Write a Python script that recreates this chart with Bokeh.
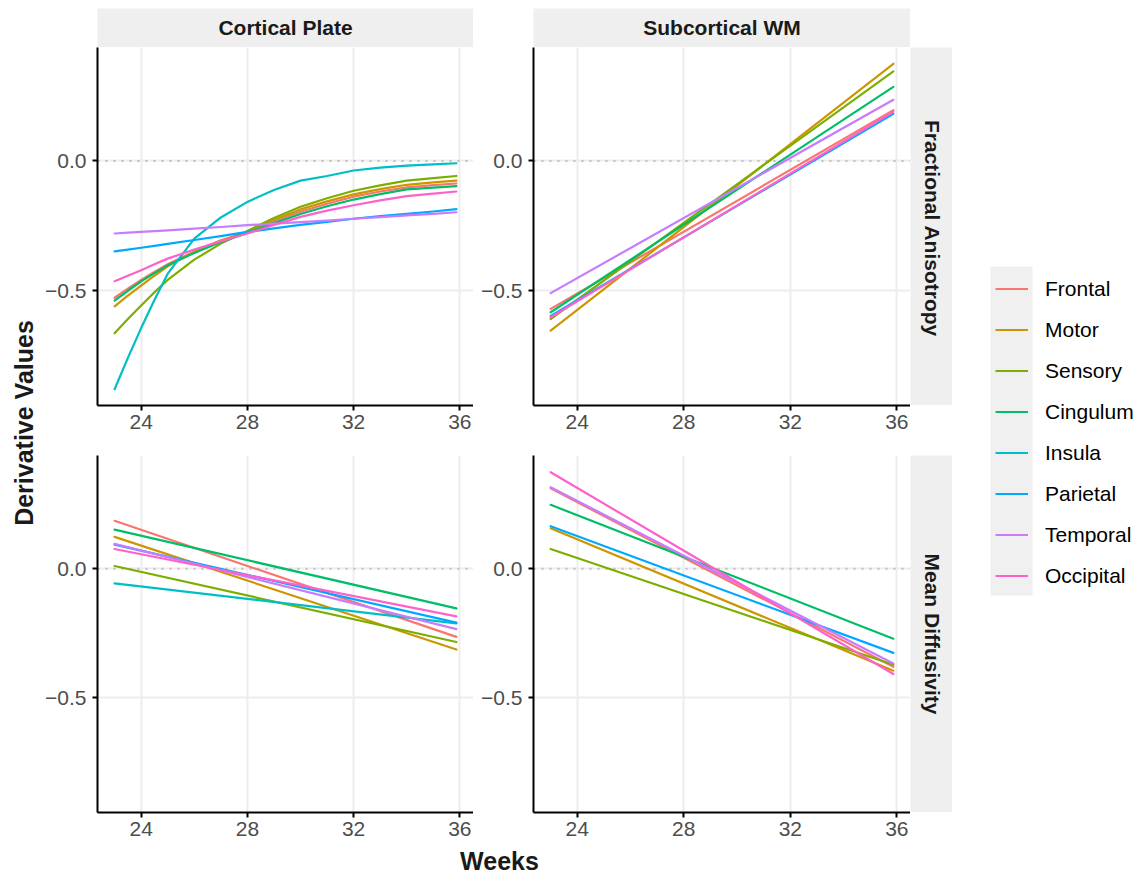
import math
from bokeh.plotting import figure
from bokeh.models import (Range1d, FixedTicker, CustomJSTickFormatter, Spacer,
                          Legend, LegendItem, BoxAnnotation, Span)
from bokeh.layouts import row, column
from bokeh.embed import file_html
from bokeh.resources import INLINE
from bokeh.core.properties import value

# ---------------- data ----------------
REGIONS = ["Frontal", "Motor", "Sensory", "Cingulum", "Insula", "Parietal", "Temporal", "Occipital"]
COLORS = ["#F8766D", "#CD9600", "#7CAE00", "#00BE67", "#00BFC4", "#00A9FF", "#C77CFF", "#FF61CC"]

COLUMN_LABELS = ["Cortical Plate", "Subcortical WM"]
ROW_LABELS = ["Fractional Anisotropy", "Mean Diffusivity"]
X_TITLE = "Weeks"
Y_TITLE = "Derivative Values"
X_TICKS = [24, 28, 32, 36]
Y_TICKS = [-0.5, 0.0]

# Cortical Plate, Fractional Anisotropy (curved)
WEEKS_CP_FA = [23, 23.5, 24, 24.5, 25, 26, 27, 28, 29, 30, 31, 32, 33, 34, 35, 35.87]
CP_FA = {
    "Frontal":   [-0.528, -0.493, -0.459, -0.428, -0.399, -0.349, -0.306, -0.274, -0.232, -0.196, -0.165, -0.138, -0.118, -0.102, -0.093, -0.087],
    "Motor":     [-0.561, -0.520, -0.481, -0.443, -0.407, -0.351, -0.309, -0.274, -0.228, -0.187, -0.156, -0.129, -0.109, -0.092, -0.083, -0.076],
    "Sensory":   [-0.665, -0.610, -0.558, -0.507, -0.459, -0.381, -0.319, -0.270, -0.220, -0.177, -0.144, -0.115, -0.094, -0.076, -0.066, -0.058],
    "Cingulum":  [-0.539, -0.501, -0.465, -0.433, -0.403, -0.355, -0.313, -0.278, -0.240, -0.205, -0.175, -0.149, -0.128, -0.110, -0.103, -0.097],
    "Insula":    [-0.881, -0.760, -0.645, -0.537, -0.435, -0.300, -0.218, -0.158, -0.112, -0.076, -0.058, -0.037, -0.026, -0.018, -0.013, -0.009],
    "Parietal":  [-0.349, -0.342, -0.335, -0.328, -0.320, -0.305, -0.290, -0.274, -0.260, -0.247, -0.235, -0.223, -0.213, -0.204, -0.195, -0.186],
    "Temporal":  [-0.280, -0.277, -0.274, -0.271, -0.268, -0.261, -0.255, -0.248, -0.242, -0.236, -0.230, -0.223, -0.217, -0.210, -0.204, -0.198],
    "Occipital": [-0.464, -0.443, -0.422, -0.399, -0.377, -0.342, -0.310, -0.280, -0.247, -0.216, -0.192, -0.171, -0.152, -0.136, -0.126, -0.118],
}

# Straight-line panels
WEEKS_LIN = [23, 35.87]
WM_FA = {
    "Frontal":   [-0.571, 0.196],
    "Motor":     [-0.655, 0.375],
    "Sensory":   [-0.610, 0.346],
    "Cingulum":  [-0.584, 0.286],
    "Parietal":  [-0.598, 0.182],
    "Temporal":  [-0.510, 0.236],
    "Occipital": [-0.603, 0.190],
}
CP_MD = {
    "Frontal":   [0.185, -0.264],
    "Motor":     [0.123, -0.313],
    "Sensory":   [0.010, -0.284],
    "Cingulum":  [0.151, -0.154],
    "Insula":    [-0.057, -0.212],
    "Parietal":  [0.093, -0.209],
    "Temporal":  [0.096, -0.234],
    "Occipital": [0.076, -0.185],
}
WM_MD = {
    "Frontal":   [0.311, -0.380],
    "Motor":     [0.156, -0.395],
    "Sensory":   [0.076, -0.372],
    "Cingulum":  [0.247, -0.271],
    "Parietal":  [0.164, -0.326],
    "Temporal":  [0.315, -0.367],
    "Occipital": [0.373, -0.408],
}

# ---------------- styling ----------------
FONT = "Liberation Sans"
STRIP = "#EFEFEF"
GRID = "#EDEDED"
TICK_TXT = "#4D4D4D"
LW = 2.2

all_vals = [v for d in (CP_FA, WM_FA, CP_MD, WM_MD) for s in d.values() for v in s]
all_x = WEEKS_CP_FA + WEEKS_LIN
ypad = 0.05 * (max(all_vals) - min(all_vals))
xpad = 0.05 * (max(all_x) - min(all_x))
XR = Range1d(min(all_x) - xpad, max(all_x) + xpad)
YR = Range1d(min(all_vals) - ypad, max(all_vals) + ypad)

YFMT = CustomJSTickFormatter(code='return (tick < 0 ? "\\u2212" : "") + Math.abs(tick).toFixed(1);')


def make_panel(weeks, series, width, height, border_left, border_bottom):
    p = figure(width=width, height=height, x_range=XR, y_range=YR,
               output_backend="svg", toolbar_location=None,
               min_border_left=border_left, min_border_right=0,
               min_border_top=0, min_border_bottom=border_bottom)
    p.background_fill_color = "white"
    p.border_fill_color = "white"
    p.outline_line_color = None
    p.xaxis.ticker = FixedTicker(ticks=X_TICKS)
    p.yaxis.ticker = FixedTicker(ticks=Y_TICKS)
    p.yaxis.formatter = YFMT
    for ax in (p.xaxis[0], p.yaxis[0]):
        ax.axis_line_color = "black"
        ax.axis_line_width = 2
        ax.major_tick_line_color = "black"
        ax.major_tick_line_width = 2
        ax.major_tick_out = 5
        ax.major_tick_in = 0
        ax.minor_tick_line_color = None
        ax.major_label_text_font = FONT
        ax.major_label_text_font_size = "21px"
        ax.major_label_text_color = TICK_TXT
    p.xaxis.major_label_standoff = 4
    p.yaxis.major_label_standoff = 6
    p.xgrid.grid_line_color = GRID
    p.xgrid.grid_line_width = 2
    p.ygrid.grid_line_color = GRID
    p.ygrid.grid_line_width = 2
    p.add_layout(Span(location=0, dimension="width", line_color="#BDBDBD",
                      line_dash="2 6", line_width=2, level="underlay"))
    for reg, col in zip(REGIONS, COLORS):
        if reg in series:
            p.line(weeks, series[reg], line_color=col, line_width=LW,
                   line_join="round", line_cap="round")
    return p


def text_fig(width, height, x, y, label, size, angle=0.0, bg="white", align="center"):
    f = figure(width=width, height=height, x_range=Range1d(0, width),
               y_range=Range1d(0, height), x_axis_type=None, y_axis_type=None,
               output_backend="svg", toolbar_location=None, min_border=0)
    f.background_fill_color = bg
    f.border_fill_color = bg
    f.outline_line_color = None
    f.text(x=[x], y=[y], text=[label], angle=angle,
           text_font=value(FONT), text_font_size=value(size),
           text_font_style="bold", text_color="#1A1A1A",
           text_align=align, text_baseline="alphabetic")
    return f


# ---------------- layout pieces ----------------
TOTAL_H = 875
W_LEFT, W_RIGHT = 433, 437      # panel canvases (frames 376 / 377)
BL_LEFT, BL_RIGHT = 57, 60
H_TOP, BB_TOP = 408, 50         # frame 358
H_BOT, BB_BOT = 390, 33         # frame 357
H_XT = 30
MAIN_W = W_LEFT + W_RIGHT + 42

strip_cp = text_fig(376, 39, 188, 20, COLUMN_LABELS[0], "21px", bg=STRIP)
strip_wm = text_fig(377, 39, 188.5, 20, COLUMN_LABELS[1], "21px", bg=STRIP)
strip_fa = text_fig(42, 358, 21.5, 177, ROW_LABELS[0], "21px", angle=-math.pi / 2, bg=STRIP)
strip_md = text_fig(42, 357, 21.5, 178.5, ROW_LABELS[1], "21px", angle=-math.pi / 2, bg=STRIP)

tl = make_panel(WEEKS_CP_FA, CP_FA, W_LEFT, H_TOP, BL_LEFT, BB_TOP)
tr = make_panel(WEEKS_LIN, WM_FA, W_RIGHT, H_TOP, BL_RIGHT, BB_TOP)
bl = make_panel(WEEKS_LIN, CP_MD, W_LEFT, H_BOT, BL_LEFT, BB_BOT)
br = make_panel(WEEKS_LIN, WM_MD, W_RIGHT, H_BOT, BL_RIGHT, BB_BOT)

x_title = text_fig(MAIN_W, H_XT, 459, 15, X_TITLE, "25px")
y_title = text_fig(40, TOTAL_H, 23.5, TOTAL_H - 422.5, Y_TITLE, "25px", angle=math.pi / 2)

# legend figure: its view is placed away from the data so only the legend shows
LX0 = 100
lf = figure(width=186, height=TOTAL_H, x_range=Range1d(LX0, LX0 + 186),
            y_range=Range1d(TOTAL_H, 0), x_axis_type=None, y_axis_type=None,
            output_backend="svg", toolbar_location=None, min_border=0)
lf.outline_line_color = None
lf.add_layout(BoxAnnotation(left=LX0 + 38, right=LX0 + 80, top=266, bottom=595,
                            fill_color="#F0F0F0", fill_alpha=1.0,
                            line_color=None, level="underlay"))
items = []
for reg, col in zip(REGIONS, COLORS):
    src = CP_FA[reg]
    r = lf.line(WEEKS_CP_FA, src, line_color=col, line_width=LW)
    items.append(LegendItem(label=reg, renderers=[r]))
leg = Legend(items=items, location=(43, TOTAL_H - 596), orientation="vertical",
             glyph_width=33, glyph_height=41, label_height=41, spacing=0,
             padding=0, margin=0, label_standoff=17,
             label_text_font=FONT, label_text_font_size="21px",
             label_text_color="black", border_line_color=None,
             background_fill_alpha=0.0)
lf.add_layout(leg)

main_col = column(
    Spacer(width=MAIN_W, height=8),
    row(Spacer(width=BL_LEFT, height=39), strip_cp, Spacer(width=60, height=39),
        strip_wm, Spacer(width=42, height=39)),
    row(tl, tr, column(strip_fa, Spacer(width=42, height=BB_TOP))),
    row(bl, br, column(strip_md, Spacer(width=42, height=BB_BOT))),
    x_title,
)
layout = row(y_title, main_col, lf)

open("out.html", "w").write(file_html(layout, INLINE))
